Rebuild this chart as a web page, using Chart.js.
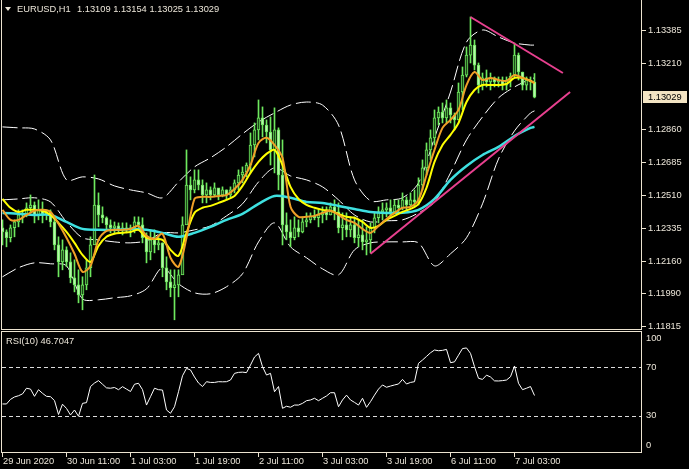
<!DOCTYPE html>
<html>
<head>
<meta charset="utf-8">
<title>EURUSD,H1</title>
<script src="https://cdn.jsdelivr.net/npm/chart.js@4.4.1/dist/chart.umd.min.js"></script>
<style>
  html, body { margin: 0; padding: 0; background: #000; }
  #wrap { position: relative; width: 689px; height: 469px; background: #000; overflow: hidden; }
  #priceChart { position: absolute; left: 0; top: 0; }
  #rsiChart { position: absolute; left: 0; top: 331px; }
</style>
</head>
<body>
<div id="wrap">
  <canvas id="priceChart" width="689" height="331"></canvas>
  <canvas id="rsiChart" width="689" height="138"></canvas>
</div>
<script>
// EURUSD H1 bars, index 0 = 29 Jun 19:00
const barOpen = [1.12336,1.12314,1.12283,1.12336,1.12367,1.12404,1.12410,1.12442,1.12457,1.12404,
  1.12431,1.12410,1.12420,1.12367,1.12245,1.12155,1.12219,1.12155,1.12071,1.12033,
  1.11980,1.12033,1.12124,1.12245,1.12457,1.12404,1.12389,1.12351,1.12336,1.12346,
  1.12325,1.12336,1.12325,1.12336,1.12367,1.12351,1.12283,1.12208,1.12272,1.12245,
  1.12256,1.12124,1.12049,1.12018,1.12033,1.12086,1.12351,1.12563,1.12537,1.12590,
  1.12563,1.12510,1.12537,1.12510,1.12548,1.12510,1.12537,1.12510,1.12537,1.12574,
  1.12616,1.12632,1.12669,1.12775,1.12855,1.12919,1.12881,1.12844,1.12749,1.12855,
  1.12616,1.12351,1.12314,1.12283,1.12336,1.12314,1.12367,1.12378,1.12399,1.12389,
  1.12404,1.12420,1.12404,1.12447,1.12420,1.12336,1.12351,1.12325,1.12351,1.12283,
  1.12298,1.12261,1.12272,1.12336,1.12389,1.12420,1.12431,1.12442,1.12420,1.12457,
  1.12442,1.12484,1.12457,1.12484,1.12473,1.12563,1.12654,1.12749,1.12813,1.12919,
  1.12950,1.12919,1.12972,1.12934,1.12908,1.13056,1.13146,1.13252,1.13305,1.13199,
  1.13093,1.13131,1.13109,1.13131,1.13109,1.13120,1.13093,1.13120,1.13141,1.13252,
  1.13162,1.13093,1.13120,1.13109];
const barHigh = [1.12378,1.12325,1.12351,1.12378,1.12431,1.12431,1.12468,1.12510,1.12473,1.12484,
  1.12473,1.12431,1.12431,1.12394,1.12288,1.12272,1.12235,1.12203,1.12166,1.12113,
  1.12076,1.12166,1.12288,1.12616,1.12521,1.12447,1.12394,1.12378,1.12367,1.12362,
  1.12362,1.12362,1.12351,1.12394,1.12394,1.12389,1.12309,1.12325,1.12325,1.12288,
  1.12256,1.12182,1.12113,1.12113,1.12113,1.12394,1.12749,1.12606,1.12643,1.12643,
  1.12590,1.12574,1.12553,1.12574,1.12537,1.12553,1.12537,1.12553,1.12590,1.12643,
  1.12659,1.12680,1.12839,1.12892,1.13014,1.12977,1.12908,1.12924,1.12972,1.12866,
  1.12802,1.12415,1.12378,1.12394,1.12378,1.12394,1.12415,1.12415,1.12431,1.12431,
  1.12447,1.12447,1.12468,1.12484,1.12468,1.12415,1.12415,1.12394,1.12394,1.12378,
  1.12378,1.12341,1.12362,1.12415,1.12447,1.12468,1.12468,1.12484,1.12484,1.12484,
  1.12521,1.12500,1.12521,1.12537,1.12601,1.12696,1.12786,1.12855,1.12961,1.12977,
  1.12998,1.13014,1.12998,1.12945,1.13104,1.13189,1.13295,1.13454,1.13332,1.13210,
  1.13157,1.13173,1.13157,1.13136,1.13136,1.13136,1.13136,1.13157,1.13316,1.13263,
  1.13162,1.13136,1.13136,1.13154];
const barLow = [1.12245,1.12235,1.12261,1.12288,1.12341,1.12362,1.12394,1.12415,1.12362,1.12378,
  1.12362,1.12378,1.12341,1.12219,1.12076,1.12113,1.12129,1.12044,1.11996,1.11938,
  1.11901,1.12007,1.12076,1.12288,1.12341,1.12362,1.12325,1.12309,1.12309,1.12309,
  1.12298,1.12309,1.12288,1.12309,1.12325,1.12256,1.12150,1.12166,1.12203,1.12219,
  1.12076,1.12007,1.11970,1.11848,1.11970,1.12182,1.12362,1.12484,1.12521,1.12537,
  1.12468,1.12468,1.12484,1.12500,1.12484,1.12500,1.12484,1.12500,1.12521,1.12537,
  1.12574,1.12606,1.12627,1.12712,1.12802,1.12818,1.12786,1.12669,1.12627,1.12537,
  1.12245,1.12272,1.12235,1.12272,1.12288,1.12309,1.12341,1.12362,1.12378,1.12341,
  1.12362,1.12378,1.12404,1.12378,1.12309,1.12272,1.12288,1.12288,1.12256,1.12235,
  1.12219,1.12192,1.12203,1.12309,1.12362,1.12378,1.12394,1.12394,1.12415,1.12415,
  1.12431,1.12431,1.12447,1.12447,1.12457,1.12537,1.12616,1.12696,1.12775,1.12881,
  1.12892,1.12892,1.12892,1.12855,1.12908,1.12961,1.13136,1.13210,1.13173,1.13051,
  1.13067,1.13083,1.13067,1.13083,1.13083,1.13067,1.13067,1.13083,1.13136,1.13120,
  1.13067,1.13067,1.13067,1.13025];
const barClose = [1.12314,1.12283,1.12336,1.12367,1.12404,1.12410,1.12442,1.12457,1.12404,1.12431,
  1.12410,1.12420,1.12367,1.12245,1.12155,1.12219,1.12155,1.12071,1.12033,1.11980,
  1.12033,1.12124,1.12245,1.12457,1.12404,1.12389,1.12351,1.12336,1.12346,1.12325,
  1.12336,1.12325,1.12336,1.12367,1.12351,1.12283,1.12208,1.12272,1.12245,1.12256,
  1.12124,1.12049,1.12018,1.12033,1.12086,1.12351,1.12563,1.12537,1.12590,1.12563,
  1.12510,1.12537,1.12510,1.12548,1.12510,1.12537,1.12510,1.12537,1.12574,1.12616,
  1.12632,1.12669,1.12775,1.12855,1.12919,1.12881,1.12844,1.12749,1.12855,1.12616,
  1.12351,1.12314,1.12283,1.12336,1.12314,1.12367,1.12378,1.12399,1.12389,1.12404,
  1.12420,1.12404,1.12447,1.12420,1.12336,1.12351,1.12325,1.12351,1.12283,1.12298,
  1.12261,1.12272,1.12336,1.12389,1.12420,1.12431,1.12442,1.12420,1.12457,1.12442,
  1.12484,1.12457,1.12484,1.12473,1.12563,1.12654,1.12749,1.12813,1.12919,1.12950,
  1.12919,1.12972,1.12934,1.12908,1.13056,1.13146,1.13252,1.13305,1.13199,1.13093,
  1.13131,1.13109,1.13131,1.13109,1.13120,1.13093,1.13120,1.13141,1.13252,1.13162,
  1.13093,1.13120,1.13109,1.13029];

// moving averages read every 2 bars
const maBars = [0,2,4,6,8,10,12,14,16,18,20,22,24,26,28,30,32,34,36,38,40,42,44,46,48,50,
  52,54,56,58,60,62,64,66,68,70,72,74,76,78,80,82,84,86,88,90,92,94,96,98,100,102,104,
  106,108,110,112,114,116,118,120,122,124,126,128,130,132,133];
const fastMA = [1.12431,1.12378,1.12378,1.12404,1.12426,1.12431,1.12420,1.12357,1.12283,1.12198,
  1.12102,1.12134,1.12272,1.12320,1.12325,1.12325,1.12330,1.12346,1.12293,1.12277,
  1.12304,1.12177,1.12129,1.12283,1.12489,1.12500,1.12500,1.12505,1.12510,1.12542,
  1.12590,1.12669,1.12786,1.12813,1.12775,1.12707,1.12447,1.12394,1.12394,1.12399,
  1.12415,1.12426,1.12404,1.12378,1.12362,1.12330,1.12309,1.12346,1.12383,1.12415,
  1.12442,1.12447,1.12484,1.12616,1.12749,1.12866,1.12908,1.12961,1.13093,1.13162,
  1.13120,1.13131,1.13120,1.13115,1.13146,1.13131,1.13115,1.13104];
const slowMA = [1.12489,1.12442,1.12420,1.12431,1.12431,1.12426,1.12404,1.12362,1.12314,1.12256,
  1.12192,1.12155,1.12240,1.12288,1.12304,1.12309,1.12314,1.12325,1.12283,1.12277,
  1.12272,1.12219,1.12187,1.12309,1.12415,1.12442,1.12452,1.12468,1.12484,1.12505,
  1.12558,1.12627,1.12685,1.12728,1.12749,1.12669,1.12553,1.12489,1.12457,1.12442,
  1.12431,1.12426,1.12410,1.12394,1.12389,1.12367,1.12336,1.12346,1.12378,1.12399,
  1.12420,1.12436,1.12463,1.12548,1.12685,1.12775,1.12829,1.12892,1.13003,1.13067,
  1.13093,1.13093,1.13093,1.13099,1.13131,1.13131,1.13115,1.13104];

// long MA and Bollinger bands read every 4 bars
const bandBars = [0,4,8,12,16,20,24,28,32,36,40,44,48,52,56,60,64,68,72,76,80,84,88,92,96,
  100,104,108,112,116,120,124,128,132,133];
const longMA = [1.12415,1.12410,1.12404,1.12404,1.12367,1.12330,1.12325,1.12325,1.12330,1.12325,
  1.12309,1.12288,1.12309,1.12341,1.12378,1.12410,1.12463,1.12505,1.12495,1.12473,
  1.12468,1.12452,1.12436,1.12420,1.12415,1.12415,1.12431,1.12489,1.12590,1.12664,
  1.12722,1.12765,1.12823,1.12866,1.12871];
const bandUpper = [1.12871,1.12866,1.12860,1.12802,1.12590,1.12606,1.12595,1.12558,1.12537,1.12521,
  1.12495,1.12579,1.12659,1.12707,1.12765,1.12834,1.12897,1.12945,1.12987,1.13003,
  1.12987,1.12881,1.12590,1.12479,1.12484,1.12495,1.12574,1.12813,1.13056,1.13321,
  1.13385,1.13348,1.13316,1.13305,1.13305];
const bandMiddle = [1.12484,1.12489,1.12495,1.12473,1.12367,1.12283,1.12272,1.12261,1.12256,1.12267,
  1.12309,1.12309,1.12325,1.12346,1.12399,1.12463,1.12579,1.12654,1.12611,1.12590,
  1.12553,1.12484,1.12404,1.12367,1.12373,1.12378,1.12415,1.12473,1.12627,1.12802,
  1.12924,1.13025,1.13083,1.13125,1.13131];
const bandLower = [1.12076,1.12124,1.12150,1.12145,1.12134,1.11959,1.11954,1.11965,1.11975,1.12012,
  1.12124,1.12039,1.11991,1.11986,1.12023,1.12092,1.12261,1.12362,1.12235,1.12177,
  1.12118,1.12086,1.12219,1.12256,1.12261,1.12261,1.12256,1.12134,1.12198,1.12283,
  1.12463,1.12701,1.12850,1.12945,1.12956];

// hand drawn trend lines
const resistanceBars = [117, 140.1];
const resistancePrices = [1.13454, 1.13157];
const supportBars = [92, 141.9];
const supportPrices = [1.12198, 1.13056];

// RSI(10)
const rsiValues = [39.7,39.7,43.5,45.5,46.5,48.0,52.7,52.0,46.0,51.5,
  48.5,46.0,45.7,42.5,31.0,39.5,36.0,30.6,34.7,29.5,
  40.2,40.8,54.1,57.0,59.0,56.0,53.0,52.7,53.3,51.5,
  54.0,52.0,50.0,56.0,56.8,51.5,38.8,45.7,52.7,51.5,
  51.2,34.7,32.0,37.4,49.8,63.0,69.1,67.8,62.0,57.0,
  54.1,58.1,57.5,57.5,58.1,58.0,58.1,59.5,65.0,65.8,
  66.0,65.6,71.9,78.5,81.5,70.5,63.6,65.0,49.8,54.1,
  36.1,37.8,37.0,38.8,38.8,40.2,42.4,43.0,44.4,42.4,
  44.4,46.3,49.0,49.0,37.4,43.0,47.0,43.0,41.0,38.8,
  44.4,36.9,41.6,47.0,52.0,55.4,53.5,54.5,55.4,56.2,
  60.0,56.2,57.5,58.1,73.3,76.0,79.0,82.0,84.3,83.7,
  84.0,84.8,73.8,74.5,80.0,85.5,86.0,81.5,70.5,60.9,
  60.0,63.5,62.0,58.8,58.7,59.0,59.5,62.2,71.1,56.8,
  51.5,52.7,54.1,46.7047];
const rsiLevels = [70, 30];
const rsiTicks = [100, 70, 30, 0];

// axis labels
const priceTicks = [1.13385, 1.13210, 1.12860, 1.12685, 1.12510, 1.12335, 1.12160, 1.11990, 1.11815];
const timeTickBars = [0, 16, 32, 48, 64, 80, 96, 112, 128];
const timeLabels = ['29 Jun 2020', '30 Jun 11:00', '1 Jul 03:00', '1 Jul 19:00', '2 Jul 11:00',
  '3 Jul 03:00', '3 Jul 19:00', '6 Jul 11:00', '7 Jul 03:00'];

const FRAME = '#ece3d0';
const TEXT = '#ebe5d8';
const FONT = '9.3px "Liberation Sans", Arial, sans-serif';
const CANDLE = '#6ee85e';
const X_MIN = -0.375, X_MAX = 159.625;

function pts(bars, vals) {
  return bars.map((b, k) => ({ x: b, y: vals[k] }));
}

const wicks = barHigh.map((h, i) => ({ x: i, y: [barLow[i], h] }));
const bodies = barOpen.map((o, i) => ({ x: i, y: [Math.min(o, barClose[i]), Math.max(o, barClose[i])] }));
const bodyFill = barOpen.map((o, i) => barClose[i] >= o ? '#1c4a18' : '#b6f6aa');

function line(data, color, width, order, extra) {
  return Object.assign({
    type: 'line', data: data, borderColor: color, borderWidth: width,
    pointRadius: 0, tension: 0.3, fill: false, order: order
  }, extra || {});
}

// price panel: frame, right axis, caption
const pricePanel = {
  id: 'pricePanel',
  afterDraw(chart) {
    const ctx = chart.ctx, y = chart.scales.y, a = chart.chartArea;
    ctx.save();
    ctx.fillStyle = FRAME;
    ctx.fillRect(1, 0, 1, a.bottom + 1);
    ctx.fillRect(1, a.bottom, a.right - 1, 1);
    ctx.fillRect(a.right, 0, 1, a.bottom + 1);
    ctx.font = FONT;
    ctx.textBaseline = 'middle';
    priceTicks.forEach(v => {
      const py = Math.round(y.getPixelForValue(v));
      ctx.fillStyle = FRAME;
      ctx.fillRect(a.right + 1, py, 4, 1);
      ctx.fillStyle = TEXT;
      ctx.fillText(v.toFixed(5), a.right + 7, py + 0.5);
    });
    // current price box
    const last = barClose[barClose.length - 1];
    const cy = Math.round(y.getPixelForValue(last));
    ctx.fillStyle = '#f3e4c3';
    ctx.fillRect(a.right + 2, cy - 6, 44, 12);
    ctx.fillStyle = '#000';
    ctx.fillText(last.toFixed(5), a.right + 7, cy + 0.5);
    // caption
    const n = barClose.length - 1;
    ctx.fillStyle = TEXT;
    ctx.beginPath();
    ctx.moveTo(5, 7); ctx.lineTo(11, 7); ctx.lineTo(8, 11); ctx.closePath();
    ctx.fill();
    ctx.fillText('EURUSD,H1', 17, 9);
    ctx.fillText([barOpen[n], barHigh[n], barLow[n], barClose[n]].map(v => v.toFixed(5)).join(' '), 77, 9);
    ctx.restore();
  }
};

new Chart(document.getElementById('priceChart'), {
  type: 'bar',
  data: {
    datasets: [
      line(pts(bandBars, bandUpper), '#ffffff', 1, 7, { borderDash: [15, 5] }),
      line(pts(bandBars, bandMiddle), '#ffffff', 1, 7, { borderDash: [15, 5] }),
      line(pts(bandBars, bandLower), '#ffffff', 1, 7, { borderDash: [15, 5] }),
      { type: 'bar', data: wicks, backgroundColor: CANDLE, barThickness: 1, grouped: false, order: 6 },
      { type: 'bar', data: bodies, backgroundColor: bodyFill, borderColor: CANDLE, borderWidth: 1,
        borderSkipped: false, barThickness: 3, grouped: false, order: 5 },
      line(pts(bandBars, longMA), '#3ee0e0', 2.5, 4),
      line(pts(maBars, slowMA), '#ffff00', 2, 3),
      line(pts(maBars, fastMA), '#f0a028', 2, 2),
      line(pts(resistanceBars, resistancePrices), '#e8408f', 2, 1, { tension: 0 }),
      line(pts(supportBars, supportPrices), '#e8408f', 2, 1, { tension: 0 })
    ]
  },
  options: {
    responsive: false,
    animation: false,
    events: [],
    layout: { padding: { left: 1, right: 48, top: 0, bottom: 2 } },
    plugins: { legend: { display: false }, tooltip: { enabled: false } },
    scales: {
      x: { type: 'linear', min: X_MIN, max: X_MAX, display: false, offset: false },
      y: { type: 'linear', min: 1.117991, max: 1.135441, display: false }
    }
  },
  plugins: [pricePanel]
});

// RSI panel: frame, levels, right axis, time axis
const rsiPanel = {
  id: 'rsiPanel',
  beforeDatasetsDraw(chart) {
    const ctx = chart.ctx, y = chart.scales.y, a = chart.chartArea;
    ctx.save();
    ctx.strokeStyle = '#dcdcdc';
    ctx.lineWidth = 1;
    ctx.setLineDash([4, 3]);
    rsiLevels.forEach(v => {
      const py = Math.round(y.getPixelForValue(v)) + 0.5;
      ctx.beginPath(); ctx.moveTo(a.left + 1, py); ctx.lineTo(a.right, py); ctx.stroke();
    });
    ctx.restore();
  },
  afterDraw(chart) {
    const ctx = chart.ctx, x = chart.scales.x, y = chart.scales.y, a = chart.chartArea;
    ctx.save();
    ctx.fillStyle = FRAME;
    ctx.fillRect(1, 0, a.right - 1, 1);
    ctx.fillRect(1, a.bottom, a.right - 1, 1);
    ctx.fillRect(1, 0, 1, a.bottom + 1);
    ctx.fillRect(a.right, 0, 1, a.bottom + 1);
    ctx.font = FONT;
    ctx.textBaseline = 'middle';
    rsiTicks.forEach(v => {
      const py = Math.min(Math.max(y.getPixelForValue(v), a.top + 7), a.bottom - 7);
      ctx.fillStyle = TEXT;
      ctx.fillText(String(v), a.right + 5, py);
    });
    timeTickBars.forEach((b, k) => {
      const px = Math.floor(x.getPixelForValue(b));
      ctx.fillStyle = FRAME;
      ctx.fillRect(px, a.bottom, 1, 5);
      ctx.fillStyle = TEXT;
      ctx.fillText(timeLabels[k], px + 1, a.bottom + 9);
    });
    ctx.fillText('RSI(10) ' + rsiValues[rsiValues.length - 1].toFixed(4), 6, 10);
    ctx.restore();
  }
};

new Chart(document.getElementById('rsiChart'), {
  type: 'line',
  data: {
    datasets: [{
      data: rsiValues.map((v, i) => ({ x: i, y: v })),
      borderColor: '#ffffff', borderWidth: 1, pointRadius: 0, tension: 0, fill: false
    }]
  },
  options: {
    responsive: false,
    animation: false,
    events: [],
    layout: { padding: { left: 1, right: 48, top: 0, bottom: 17 } },
    plugins: { legend: { display: false }, tooltip: { enabled: false } },
    scales: {
      x: { type: 'linear', min: X_MIN, max: X_MAX, display: false },
      y: { type: 'linear', min: 0, max: 100, display: false }
    }
  },
  plugins: [rsiPanel]
});
</script>
</body>
</html>
